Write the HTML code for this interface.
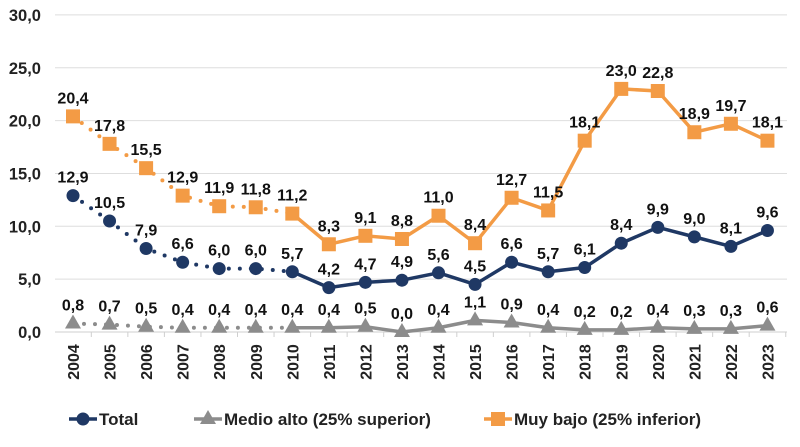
<!DOCTYPE html>
<html><head><meta charset="utf-8"><style>
body{margin:0;background:#fff;width:800px;height:442px;overflow:hidden;font-family:"Liberation Sans",Arial,sans-serif}
text{font-family:"Liberation Sans",Arial,sans-serif;font-weight:bold}
</style></head><body>
<svg id="chart" width="800" height="442"></svg>
<script>
const years=["2004","2005","2006","2007","2008","2009","2010","2011","2012","2013","2014","2015","2016","2017","2018","2019","2020","2021","2022","2023"];
const total=[12.9,10.5,7.9,6.6,6.0,6.0,5.7,4.2,4.7,4.9,5.6,4.5,6.6,5.7,6.1,8.4,9.9,9.0,8.1,9.6];
const medioAlto=[0.8,0.7,0.5,0.4,0.4,0.4,0.4,0.4,0.5,0.0,0.4,1.1,0.9,0.4,0.2,0.2,0.4,0.3,0.3,0.6];
const muyBajo=[20.4,17.8,15.5,12.9,11.9,11.8,11.2,8.3,9.1,8.8,11.0,8.4,12.7,11.5,18.1,23.0,22.8,18.9,19.7,18.1];
const yTicks=[0,5,10,15,20,25,30];
const dottedUntil=6;
const svg=document.getElementById('chart');const NS='http://www.w3.org/2000/svg';
function X(i){return 73+i*36.55;}
function Y(v){return 332-v*10.57;}
function mk(t,a,p){const e=document.createElementNS(NS,t);for(const k in a)e.setAttribute(k,a[k]);(p||svg).appendChild(e);return e;}
const fmt=v=>v.toFixed(1).replace('.',',');
yTicks.forEach(t=>{
 const g=mk('line',{x1:55,x2:787,y1:Y(t),y2:Y(t),stroke:t===0?'#cfcfcf':'#dedede','stroke-width':1});
 
 
 const l=mk('text',{x:41,y:Y(t)+6,'text-anchor':'end','font-size':16.5,fill:'#222'});l.textContent=fmt(t);
 
 
});
years.forEach((y,i)=>{
 const tk=mk('line',{x1:X(i)+18.3,x2:X(i)+18.3,y1:332,y2:337,stroke:'#cfcfcf'});
 
 
 const l=mk('text',{transform:`translate(${X(i)+6},362) rotate(-90)`,'text-anchor':'middle','font-size':16,fill:'#222'});l.textContent=y;
 
 
});
function series(vals,color,shape,name){
 const g=mk('g',{});
 
 
 const pd=vals.slice(0,dottedUntil+1).map((v,i)=>(i?'L':'M')+X(i)+','+Y(v)).join('');
 mk('path',{d:pd,fill:'none',stroke:color,'stroke-width':4,'stroke-dasharray':'0 11','stroke-linecap':'round'},g);
 const ps=vals.slice(dottedUntil).map((v,j)=>(j?'L':'M')+X(j+dottedUntil)+','+Y(v)).join('');
 mk('path',{d:ps,fill:'none',stroke:color,'stroke-width':3.5,'stroke-linejoin':'round'},g);
 vals.forEach((v,i)=>{
  const x=X(i),y=Y(v);let m;
  if(shape==='c')m=mk('circle',{cx:x,cy:y,r:6.5,fill:color},g);
  else if(shape==='s')m=mk('rect',{x:x-7,y:y-7,width:14,height:14,fill:color},g);
  else m=mk('polygon',{points:`${x},${y-9} ${x+8},${y+5} ${x-8},${y+5}`,fill:color},g);
  
  
  const t=mk('text',{x:x,y:y-13,'text-anchor':'middle','font-size':16,fill:'#111'},g);t.textContent=fmt(v);
  
  
 });
}
series(muyBajo,'#f39b45','s','muy-bajo');
series(total,'#1f3864','c','total');
series(medioAlto,'#8c8c8c','t','medio-alto');
function leg(x,color,shape,label,name){
 const g=mk('g',{});
 
 
 mk('line',{x1:x,x2:x+28,y1:419,y2:419,stroke:color,'stroke-width':3.5},g);
 const cx=x+14;
 if(shape==='c')mk('circle',{cx:cx,cy:419,r:6.5,fill:color},g);
 else if(shape==='s')mk('rect',{x:cx-7,y:412,width:14,height:14,fill:color},g);
 else mk('polygon',{points:`${cx},410 ${cx+8},424 ${cx-8},424`,fill:color},g);
 const t=mk('text',{x:x+30,y:425,'font-size':17,fill:'#222'},g);t.textContent=label;
}
leg(69,'#1f3864','c','Total','total');
leg(194,'#8c8c8c','t','Medio alto (25% superior)','medio-alto');
leg(484,'#f39b45','s','Muy bajo (25% inferior)','muy-bajo');
</script>
</body></html>
